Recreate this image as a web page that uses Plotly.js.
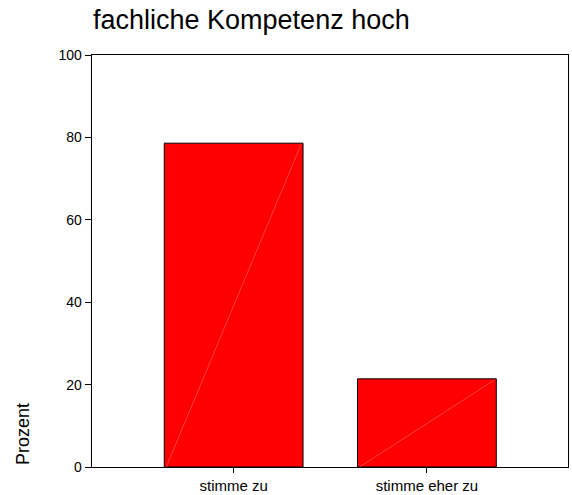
<!DOCTYPE html>
<html>
<head>
<meta charset="utf-8">
<script src="https://cdn.plot.ly/plotly-3.0.1.min.js"></script>
<style>html,body{margin:0;padding:0;background:#fff;}#chart{width:572px;height:495px;}</style>
</head>
<body>
<div id="chart"></div>
<script>
// Data
const categories = ["stimme zu", "stimme eher zu"];
const percentValues = [78.6, 21.4];
const yTickValues = [0, 20, 40, 60, 80, 100];
const chartTitle = "fachliche Kompetenz hoch";
const yTitle = "Prozent";

const barWidth = 0.718;

const barTrace = {
  type: "bar",
  x: [0, 1],
  y: percentValues,
  width: barWidth,
  marker: { color: "#ff0000", line: { color: "#000000", width: 1 } },
  hoverinfo: "skip"
};

// faint diagonal highlight inside each bar (bottom-left to top-right)
const diagX = [], diagY = [];
percentValues.forEach((v, i) => {
  diagX.push(i - barWidth / 2 + 0.01, i + barWidth / 2 - 0.01, null);
  diagY.push(0, v - 0.3, null);
});
const diagTrace = {
  type: "scatter",
  mode: "lines",
  x: diagX,
  y: diagY,
  line: { color: "rgba(255,140,140,0.8)", width: 0.6 },
  hoverinfo: "skip"
};

const layout = {
  width: 572,
  height: 495,
  margin: { l: 92, r: 4, t: 55, b: 28 },
  paper_bgcolor: "#ffffff",
  plot_bgcolor: "#ffffff",
  showlegend: false,
  font: { family: "Liberation Sans, Arial, sans-serif", color: "#000000" },
  title: {
    text: chartTitle,
    font: { size: 27, color: "#000000" },
    xref: "container", x: 93 / 572, xanchor: "left",
    yref: "container", y: 1 - 20 / 495, yanchor: "middle"
  },
  xaxis: {
    range: [-0.733, 1.73],
    tickmode: "array",
    tickvals: [0, 1],
    ticktext: categories,
    ticks: "outside", ticklen: 5, tickwidth: 1, tickcolor: "#000",
    showline: true, linecolor: "#000", linewidth: 1.3, mirror: true,
    showgrid: false, zeroline: false,
    tickfont: { size: 15 }, fixedrange: true
  },
  yaxis: {
    range: [0, 100],
    tickmode: "array",
    tickvals: yTickValues,
    ticks: "outside", ticklen: 6, tickwidth: 1, tickcolor: "#000",
    showline: true, linecolor: "#000", linewidth: 1.3, mirror: true,
    showgrid: false, zeroline: false,
    tickfont: { size: 14 }, fixedrange: true
  },
  annotations: [{
    text: yTitle,
    xref: "paper", yref: "y",
    x: -0.145, y: 0,
    xanchor: "center", yanchor: "bottom",
    textangle: -90,
    showarrow: false,
    font: { size: 18, color: "#000" }
  }]
};

Plotly.newPlot("chart", [barTrace, diagTrace], layout, { displayModeBar: false, staticPlot: true });
</script>
</body>
</html>
